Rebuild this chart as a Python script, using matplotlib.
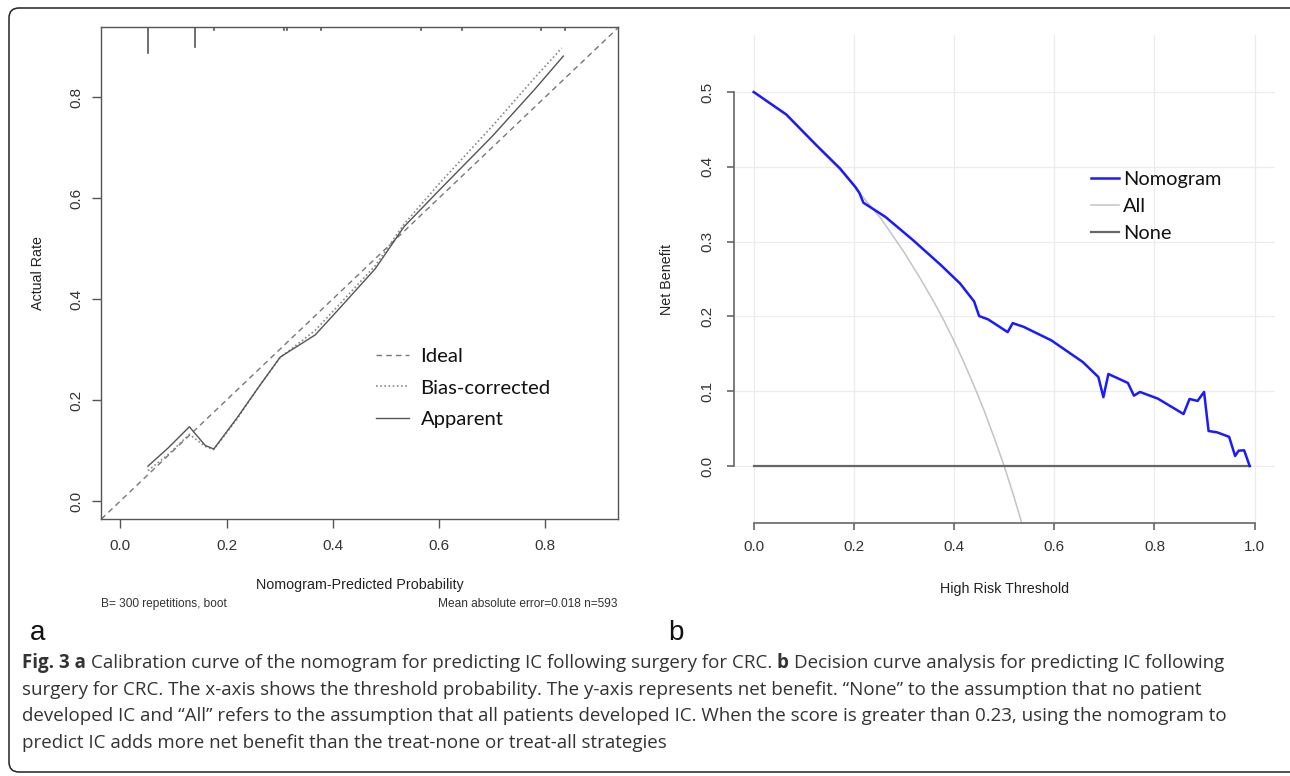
import numpy as np
import matplotlib
matplotlib.use("Agg")
import matplotlib.pyplot as plt
from matplotlib.patches import FancyBboxPatch
from matplotlib.lines import Line2D

W, H = 1290, 776

# ---- panel a: calibration curve ----
ideal_x = [-0.0356, 0.936]
apparent_x = [0.052, 0.09, 0.130, 0.160, 0.176, 0.22, 0.26, 0.301, 0.367, 0.42, 0.48, 0.534, 0.60, 0.70, 0.78, 0.834]
apparent_y = [0.069, 0.105, 0.147, 0.110, 0.103, 0.165, 0.225, 0.285, 0.329, 0.390, 0.460, 0.543, 0.615, 0.722, 0.815, 0.881]
bias_x = [0.052, 0.09, 0.130, 0.160, 0.176, 0.22, 0.26, 0.301, 0.367, 0.42, 0.48, 0.534, 0.60, 0.70, 0.78, 0.831]
bias_y = [0.060, 0.092, 0.132, 0.108, 0.102, 0.163, 0.225, 0.284, 0.338, 0.398, 0.466, 0.548, 0.628, 0.742, 0.838, 0.897]
rug_x = [0.052, 0.140, 0.176, 0.308, 0.313, 0.378, 0.566, 0.643, 0.792, 0.838]
rug_len = [1.0, 0.77, 0.12, 0.12, 0.12, 0.12, 0.12, 0.12, 0.12, 0.12]

# ---- panel b: decision curve ----
nomo_x = [0.0, 0.065, 0.125, 0.172, 0.203, 0.211, 0.219, 0.263, 0.318, 0.373, 0.412, 0.440,
          0.450, 0.468, 0.507, 0.517, 0.539, 0.594, 0.657, 0.688, 0.698, 0.708, 0.747, 0.759,
          0.771, 0.807, 0.858, 0.870, 0.886, 0.899, 0.908, 0.925, 0.949, 0.961, 0.968, 0.979, 0.990]
nomo_y = [0.500, 0.470, 0.429, 0.398, 0.373, 0.365, 0.352, 0.333, 0.302, 0.269, 0.244, 0.220,
          0.2005, 0.196, 0.179, 0.191, 0.186, 0.168, 0.139, 0.119, 0.092, 0.123, 0.111, 0.094,
          0.099, 0.090, 0.0695, 0.0896, 0.087, 0.099, 0.0468, 0.045, 0.039, 0.0134, 0.0205, 0.021, 0.0]
all_x = [0.0, 0.065, 0.125, 0.172, 0.203, 0.219, 0.255, 0.302, 0.334, 0.360, 0.380, 0.400,
         0.420, 0.440, 0.460, 0.480, 0.500, 0.520, 0.545]
all_y = [0.500, 0.469, 0.428, 0.396, 0.372, 0.359, 0.330, 0.284, 0.249, 0.219, 0.194, 0.167,
         0.138, 0.107, 0.074, 0.038, 0.0, -0.042, -0.099]
none_x = [0.0, 0.99]
none_y = [0.0, 0.0]

caption = [
    [("Fig. 3 a", "bold"), ("Calibration curve of the nomogram for predicting IC following surgery for CRC.", "normal"),
     ("b", "bold"), ("Decision curve analysis for predicting IC following", "normal")],
    [("surgery for CRC. The x-axis shows the threshold probability. The y-axis represents net benefit. \u201cNone\u201d to the assumption that no patient", "normal")],
    [("developed IC and \u201cAll\u201d refers to the assumption that all patients developed IC. When the score is greater than 0.23, using the nomogram to", "normal")],
    [("predict IC adds more net benefit than the treat-none or treat-all strategies", "normal")],
]


def px(x, y):
    return x / W, 1 - y / H


plt.rcParams['font.family'] = ['Liberation Sans', 'DejaVu Sans']
fig = plt.figure(figsize=(W / 100, H / 100), dpi=100)

frame = FancyBboxPatch((9, 4), 1300, 764, boxstyle="round,pad=0,rounding_size=10",
                       transform=None, facecolor='none', edgecolor='#222222', lw=1.1)
fig.patches.append(frame)

# panel a
l, t = px(101.4, 27)
r, b = px(617.5, 519)
ax1 = fig.add_axes([l, b, r - l, t - b])
ax1.plot(ideal_x, ideal_x, ls=(0, (4, 3)), color='#777777', lw=1.0, label='Ideal')
ax1.plot(bias_x, bias_y, ls=(0, (1, 1.5)), color='#888888', lw=1.2, label='Bias-corrected')
ax1.plot(apparent_x, apparent_y, ls='-', color='#555555', lw=1.0, label='Apparent')
for xx, ll in zip(rug_x, rug_len):
    ax1.plot([xx, xx], [1.0, 1.0 - 0.053 * ll], color='#555555', lw=1.2,
             transform=ax1.get_xaxis_transform())
ax1.set_xlim(-0.0356, 0.936)
ax1.set_ylim(-0.0356, 0.9386)
ax1.set_xticks([0.0, 0.2, 0.4, 0.6, 0.8])
ax1.set_yticks([0.0, 0.2, 0.4, 0.6, 0.8])
ax1.set_xticklabels(['0.0', '0.2', '0.4', '0.6', '0.8'])
ax1.set_yticklabels(['0.0', '0.2', '0.4', '0.6', '0.8'], rotation=90, va='center')
ax1.tick_params(axis='both', length=6.5, width=1.0, color='#555555', labelsize=11, labelcolor='#333333')
ax1.tick_params(axis='y', pad=6.5)
ax1.tick_params(axis='x', pad=8)
for s in ax1.spines.values():
    s.set_color('#555555')
    s.set_linewidth(1.0)
leg1 = ax1.legend(loc='upper left', bbox_to_anchor=px(376, 348), bbox_transform=fig.transFigure,
                  frameon=False, borderpad=0, borderaxespad=0, handlelength=1.62, handletextpad=0.58,
                  labelspacing=0.7, prop={'family': 'Lato', 'size': 14.6})
for txt in leg1.get_texts():
    txt.set_color('#111111')

fig.text(*px(38, 273), 'Actual Rate', rotation=90, ha='center', va='center', fontsize=10.3, color='#222222')
fig.text(*px(359.5, 585), 'Nomogram-Predicted Probability', ha='center', va='center', fontsize=10.3, color='#222222')
fig.text(*px(101.4, 604), 'B= 300 repetitions, boot', ha='left', va='center', fontsize=8.6, color='#333333')
fig.text(*px(617.5, 604), 'Mean absolute error=0.018 n=593', ha='right', va='center', fontsize=8.6, color='#333333')

# panel b
l, t = px(734.3, 35)
r, b = px(1274.7, 523)
ax2 = fig.add_axes([l, b, r - l, t - b])
ax2.plot(all_x, all_y, color='#c4c4c4', lw=1.1, label='All', zorder=2)
ax2.plot(none_x, none_y, color='#666666', lw=1.6, label='None', zorder=2)
ax2.plot(nomo_x, nomo_y, color='#1a1aff', lw=1.8, label='Nomogram', zorder=3)
ax2.set_xlim(-0.0387, 1.04)
ax2.set_ylim(-0.0762, 0.5762)
ax2.set_xticks([0.0, 0.2, 0.4, 0.6, 0.8, 1.0])
ax2.set_yticks([0.0, 0.1, 0.2, 0.3, 0.4, 0.5])
ax2.set_xticklabels(['0.0', '0.2', '0.4', '0.6', '0.8', '1.0'])
ax2.set_yticklabels(['0.0', '0.1', '0.2', '0.3', '0.4', '0.5'], rotation=90, va='center')
ax2.grid(True, color='#ececec', lw=0.9)
ax2.set_axisbelow(True)
ax2.spines['top'].set_visible(False)
ax2.spines['right'].set_visible(False)
ax2.spines['left'].set_bounds(0.0, 0.5)
ax2.spines['bottom'].set_bounds(0.0, 1.0)
for s in ('left', 'bottom'):
    ax2.spines[s].set_color('#666666')
    ax2.spines[s].set_linewidth(1.2)
ax2.tick_params(axis='both', length=5, width=1.2, color='#666666', labelsize=11, labelcolor='#333333')
ax2.tick_params(axis='y', pad=9)
ax2.tick_params(axis='x', pad=7.5)
hnd = [Line2D([], [], color='#1a1aff', lw=1.8), Line2D([], [], color='#c4c4c4', lw=1.1),
       Line2D([], [], color='#666666', lw=1.6)]
leg2 = ax2.legend(hnd, ['Nomogram', 'All', 'None'], loc='upper left', bbox_to_anchor=px(1091, 171),
                  bbox_transform=fig.transFigure, frameon=False, borderpad=0, borderaxespad=0,
                  handlelength=1.4, handletextpad=0.2, labelspacing=0.5,
                  prop={'family': 'Lato', 'size': 14.4})
for txt in leg2.get_texts():
    txt.set_color('#111111')

fig.text(*px(667, 279), 'Net Benefit', rotation=90, ha='center', va='center', fontsize=10.3, color='#222222')
fig.text(*px(1004.5, 589), 'High Risk Threshold', ha='center', va='center', fontsize=10.3, color='#222222')

fig.text(*px(38, 633), 'a', ha='center', va='center', fontsize=20, color='#111111')
fig.text(*px(676, 633), 'b', ha='center', va='center', fontsize=20, color='#111111')

# caption with bold runs
renderer = fig.canvas.get_renderer()
cap_font = ['Open Sans', 'DejaVu Sans']
cap_size = 13.5
probe = fig.text(0, 0, 'a a', fontsize=cap_size, family=cap_font)
w_aa = probe.get_window_extent(renderer).width
probe.set_text('aa')
space_w = w_aa - probe.get_window_extent(renderer).width
probe.remove()
line_y = [663, 690, 716, 743]
for runs, yy in zip(caption, line_y):
    xx = 22
    for txt, wt in runs:
        t_ = fig.text(*px(xx, yy), txt, ha='left', va='center', fontsize=cap_size,
                      family=cap_font, weight=wt, color='#333333')
        xx += t_.get_window_extent(renderer).width + space_w

fig.savefig('out.png', dpi=100)
